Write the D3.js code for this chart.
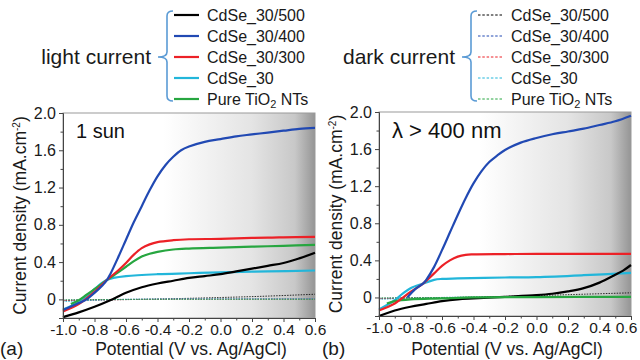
<!DOCTYPE html>
<html>
<head>
<meta charset="utf-8">
<script src="https://cdn.jsdelivr.net/npm/d3@7/dist/d3.min.js"></script>
<style>
  body { margin: 0; background: #fff; }
  svg { display: block; font-family: "Liberation Sans", Arial, sans-serif; }
</style>
</head>
<body>
<div id="chart"></div>
<script>
// Series names and colours (same order in both panels)
const seriesNames = ["CdSe_30/500", "CdSe_30/400", "CdSe_30/300", "CdSe_30", "Pure TiO2 NTs"];
const seriesColors = ["#000000", "#2149b3", "#ec2127", "#22b6da", "#27a640"];

// Axis ticks
const xTicks = [-1.0, -0.8, -0.6, -0.4, -0.2, 0.0, 0.2, 0.4, 0.6];
const xTickLabels = ["-1.0", "-0.8", "-0.6", "-0.4", "-0.2", "0.0", "0.2", "0.4", "0.6"];
const yTicks = [0, 0.4, 0.8, 1.2, 1.6, 2.0];
const yTickLabels = ["0", "0.4", "0.8", "1.2", "1.6", "2.0"];

// Panel (a): 1 sun, light current  [potential V, current density mA/cm2]
const lightA_500 = [[-1.0,-0.19],[-0.9,-0.14],[-0.8,-0.08],[-0.7,-0.01],[-0.65,0.03],[-0.6,0.07],[-0.5,0.13],[-0.4,0.17],[-0.3,0.2],[-0.2,0.23],[-0.1,0.25],[0,0.27],[0.1,0.3],[0.2,0.33],[0.3,0.36],[0.4,0.39],[0.5,0.44],[0.6,0.5]];
const lightA_400 = [[-1.0,-0.115],[-0.9,-0.04],[-0.85,0.0],[-0.8,0.07],[-0.75,0.15],[-0.72,0.21],[-0.7,0.27],[-0.65,0.45],[-0.6,0.64],[-0.55,0.83],[-0.5,1.0],[-0.45,1.17],[-0.4,1.32],[-0.35,1.44],[-0.3,1.53],[-0.25,1.6],[-0.2,1.64],[-0.1,1.69],[0,1.72],[0.1,1.75],[0.2,1.77],[0.3,1.79],[0.4,1.81],[0.5,1.83],[0.6,1.84]];
const lightA_300 = [[-1.0,-0.13],[-0.9,-0.05],[-0.85,0.01],[-0.8,0.08],[-0.72,0.21],[-0.65,0.31],[-0.6,0.39],[-0.55,0.48],[-0.5,0.55],[-0.45,0.59],[-0.4,0.615],[-0.3,0.635],[-0.2,0.645],[0,0.65],[0.2,0.66],[0.4,0.665],[0.6,0.67]];
const lightA_30 = [[-1.0,-0.11],[-0.9,-0.03],[-0.85,0.03],[-0.8,0.11],[-0.75,0.18],[-0.72,0.21],[-0.68,0.23],[-0.6,0.25],[-0.4,0.27],[-0.2,0.28],[0,0.29],[0.3,0.3],[0.6,0.31]];
const lightA_TiO2 = [[-0.95,-0.05],[-0.9,-0.01],[-0.85,0.05],[-0.8,0.11],[-0.72,0.21],[-0.65,0.29],[-0.6,0.35],[-0.55,0.41],[-0.5,0.46],[-0.45,0.49],[-0.4,0.51],[-0.3,0.535],[-0.2,0.545],[0,0.555],[0.2,0.565],[0.4,0.575],[0.6,0.585]];

// Panel (a): dark current
const darkA_500 = [[-1.0,-0.01],[-0.5,0.0],[0,0.02],[0.3,0.035],[0.6,0.055]];
const darkA_400 = [[-1.0,-0.01],[-0.6,0.0],[0.6,0.005]];
const darkA_300 = [[-1.0,-0.015],[-0.6,-0.002],[0.6,0.003]];
const darkA_30 = [[-1.0,-0.025],[-0.8,-0.01],[-0.6,0.0],[0.6,0.005]];
const darkA_TiO2 = [[-1.0,-0.005],[-0.5,0.0],[0.6,0.0]];

// Panel (b): lambda > 400 nm, light current
const lightB_500 = [[-1.0,-0.2],[-0.9,-0.14],[-0.8,-0.1],[-0.7,-0.07],[-0.6,-0.04],[-0.5,-0.02],[-0.4,-0.01],[-0.2,0.007],[0,0.025],[0.1,0.04],[0.2,0.065],[0.3,0.1],[0.4,0.16],[0.5,0.245],[0.55,0.29],[0.6,0.35]];
const lightB_400 = [[-0.82,0.0],[-0.77,0.09],[-0.72,0.15],[-0.7,0.19],[-0.65,0.33],[-0.6,0.51],[-0.55,0.7],[-0.5,0.89],[-0.45,1.07],[-0.4,1.23],[-0.35,1.36],[-0.3,1.46],[-0.25,1.53],[-0.2,1.59],[-0.1,1.67],[0,1.72],[0.1,1.76],[0.2,1.79],[0.3,1.82],[0.4,1.86],[0.5,1.9],[0.6,1.96]];
const lightB_300 = [[-1.0,-0.14],[-0.9,-0.065],[-0.8,0.06],[-0.72,0.15],[-0.65,0.26],[-0.6,0.34],[-0.55,0.4],[-0.5,0.44],[-0.45,0.46],[-0.4,0.465],[-0.2,0.468],[0,0.47],[0.3,0.47],[0.6,0.47]];
const lightB_30 = [[-1.0,-0.13],[-0.9,-0.03],[-0.85,0.04],[-0.8,0.1],[-0.72,0.15],[-0.65,0.19],[-0.6,0.2],[-0.5,0.205],[-0.2,0.215],[0,0.22],[0.3,0.24],[0.6,0.265]];
const lightB_TiO2 = [[-0.95,-0.065],[-0.9,-0.04],[-0.8,-0.02],[-0.6,-0.01],[-0.4,0.0],[0,0.004],[0.6,0.007]];

// Panel (b): dark current
const darkB_500 = [[-1.0,-0.01],[-0.5,0.0],[0,0.02],[0.3,0.035],[0.6,0.05]];
const darkB_400 = [[-1.0,-0.01],[-0.6,0.0],[0.6,0.004]];
const darkB_300 = [[-1.0,-0.015],[-0.6,-0.002],[0.6,0.003]];
const darkB_30 = [[-1.0,-0.02],[-0.8,-0.01],[-0.6,0.0],[0.6,0.004]];
const darkB_TiO2 = [[-1.0,-0.005],[-0.5,0.0],[0.6,0.0]];

// Create the SVG
const svg = d3.select("#chart")
    .append("svg")
    .attr("width", 640)
    .attr("height", 360);

// Gradient used as plot background (white on the left, grey towards the right)
const grad = svg.append("defs")
    .append("linearGradient")
    .attr("id", "bgGrad")
    .attr("x1", "0%").attr("x2", "100%")
    .attr("y1", "0%").attr("y2", "0%");
[[0, "#ffffff"], [0.4, "#ffffff"], [0.75, "#e4e4e4"], [0.92, "#c8c8c8"], [1, "#959595"]]
    .forEach(s => grad.append("stop").attr("offset", s[0]).attr("stop-color", s[1]));

// Draw one legend block (brace + entries)
function drawLegend(cfg) {
    const g = svg.append("g");
    const rowY = d3.scalePoint().domain(seriesNames).range([cfg.top + 4, cfg.bottom - 2]);

    // title
    g.append("text")
        .attr("x", cfg.braceX - 16)
        .attr("y", cfg.midY + 7)
        .attr("text-anchor", "end")
        .style("font-size", "21px")
        .attr("fill", "#1a1a1a")
        .text(cfg.title);

    // brace
    const bx = cfg.braceX, t = cfg.top, b = cfg.bottom, m = cfg.midY;
    g.append("path")
        .attr("d", `M${bx + 6},${t} Q${bx},${t} ${bx},${t + 5} L${bx},${m - 5} Q${bx},${m} ${bx - 9},${m} Q${bx},${m} ${bx},${m + 5} L${bx},${b - 5} Q${bx},${b} ${bx + 6},${b}`)
        .attr("fill", "none")
        .attr("stroke", "#5b9bd5")
        .attr("stroke-width", 1.6);

    seriesNames.forEach((name, i) => {
        const y = rowY(name);
        g.append("line")
            .attr("x1", bx + 7).attr("x2", bx + 32)
            .attr("y1", y).attr("y2", y)
            .attr("stroke", seriesColors[i])
            .attr("stroke-width", cfg.dashed ? 1 : 2.2)
            .attr("stroke-dasharray", cfg.dashed ? "2.5,1.8" : null);
        const txt = g.append("text")
            .attr("x", bx + 40)
            .attr("y", y + 5.5)
            .style("font-size", "16px")
            .attr("fill", "#1a1a1a");
        if (name === "Pure TiO2 NTs") {
            txt.append("tspan").text("Pure TiO");
            txt.append("tspan").attr("dy", 3).style("font-size", "11px").text("2");
            txt.append("tspan").attr("dy", -3).text(" NTs");
        } else {
            txt.text(name);
        }
    });
}

drawLegend({ title: "light current", braceX: 167, top: 11, bottom: 101, midY: 57, dashed: false });
drawLegend({ title: "dark current", braceX: 471, top: 11, bottom: 101, midY: 57, dashed: true });

// Draw one J-V panel
function drawPanel(cfg) {
    const g = svg.append("g");

    const x = d3.scaleLinear().domain([-1.0, 0.6]).range([cfg.left, cfg.right]);
    const y = d3.scaleLinear().domain([-0.2, 2.0]).range([cfg.bottom, cfg.top]);

    // background
    g.append("rect")
        .attr("x", cfg.left).attr("y", cfg.top)
        .attr("width", cfg.right - cfg.left)
        .attr("height", cfg.bottom - cfg.top)
        .attr("fill", "url(#bgGrad)")
        .attr("stroke", "#9a9a9a")
        .attr("stroke-width", 1);

    const line = d3.line()
        .x(d => x(d[0]))
        .y(d => y(d[1]))
        .curve(d3.curveCatmullRom.alpha(0.5));

    // dark currents (dotted)
    cfg.dark.forEach((s, i) => {
        g.append("path")
            .datum(s)
            .attr("d", line)
            .attr("fill", "none")
            .attr("stroke", seriesColors[i])
            .attr("stroke-width", 1)
            .attr("stroke-dasharray", "1.5,1.2")
            .attr("opacity", 0.8);
    });

    // light currents, drawn so the blue sits on top like in the figure
    [3, 0, 4, 2, 1].forEach(i => {
        g.append("path")
            .datum(cfg.light[i])
            .attr("d", line)
            .attr("fill", "none")
            .attr("stroke", seriesColors[i])
            .attr("stroke-width", 2.2);
    });

    // x-axis
    const xAxis = g.append("g")
        .attr("transform", "translate(0," + cfg.bottom + ")")
        .call(d3.axisBottom(x).tickValues(xTicks)
            .tickFormat((d, i) => xTickLabels[i]).tickSize(4).tickPadding(2));
    xAxis.selectAll("text").style("font-size", "15.5px").attr("fill", "#1a1a1a");
    // keep the last label inside the page
    if (cfg.shiftLast) {
        xAxis.selectAll(".tick:last-of-type text").attr("dx", cfg.shiftLast);
    }

    // x minor ticks
    g.append("g")
        .attr("transform", "translate(0," + cfg.bottom + ")")
        .call(d3.axisBottom(x).tickValues(d3.range(-0.9, 0.6, 0.2)).tickFormat("").tickSize(2.5))
        .select(".domain").remove();

    // y-axis
    const yAxis = g.append("g")
        .attr("transform", "translate(" + cfg.left + ",0)")
        .call(d3.axisLeft(y).tickValues(yTicks)
            .tickFormat((d, i) => yTickLabels[i]).tickSize(4).tickPadding(3));
    yAxis.selectAll("text").style("font-size", "16px").attr("fill", "#1a1a1a");

    // y minor ticks
    g.append("g")
        .attr("transform", "translate(" + cfg.left + ",0)")
        .call(d3.axisLeft(y).tickValues([0.2, 0.6, 1.0, 1.4, 1.8]).tickFormat("").tickSize(2.5))
        .select(".domain").remove();

    g.selectAll(".domain").attr("stroke", "#444");
    g.selectAll(".tick line").attr("stroke", "#444");

    // y-axis label
    const yl = g.append("text")
        .attr("transform", "translate(" + (cfg.left - 37) + "," + ((cfg.top + cfg.bottom) / 2) + ") rotate(-90)")
        .attr("text-anchor", "middle")
        .style("font-size", "17.5px")
        .attr("fill", "#1a1a1a");
    yl.append("tspan").text("Current density (mA.cm");
    yl.append("tspan").attr("dy", -6).style("font-size", "10px").text("-2");
    yl.append("tspan").attr("dy", 6).text(")");

    // x-axis label
    g.append("text")
        .attr("x", (cfg.left + cfg.right) / 2 + 2)
        .attr("y", 355)
        .attr("text-anchor", "middle")
        .style("font-size", "17.5px")
        .attr("fill", "#1a1a1a")
        .text("Potential (V vs. Ag/AgCl)");

    // panel letter
    g.append("text")
        .attr("x", cfg.letterX)
        .attr("y", 355)
        .style("font-size", "19px")
        .attr("fill", "#1a1a1a")
        .text(cfg.letter);

    // annotation
    g.append("text")
        .attr("x", cfg.left + 13)
        .attr("y", 138)
        .style("font-size", cfg.noteSize)
        .attr("fill", "#111")
        .text(cfg.note);
}

drawPanel({
    left: 63, right: 315, top: 113, bottom: 318,
    light: [lightA_500, lightA_400, lightA_300, lightA_30, lightA_TiO2],
    dark: [darkA_500, darkA_400, darkA_300, darkA_30, darkA_TiO2],
    letter: "(a)", letterX: 0, note: "1 sun", noteSize: "20px", shiftLast: 0
});

drawPanel({
    left: 379, right: 631, top: 112, bottom: 316,
    light: [lightB_500, lightB_400, lightB_300, lightB_30, lightB_TiO2],
    dark: [darkB_500, darkB_400, darkB_300, darkB_30, darkB_TiO2],
    letter: "(b)", letterX: 322, note: "λ > 400 nm", noteSize: "22px", shiftLast: -5
});
</script>
</body>
</html>
